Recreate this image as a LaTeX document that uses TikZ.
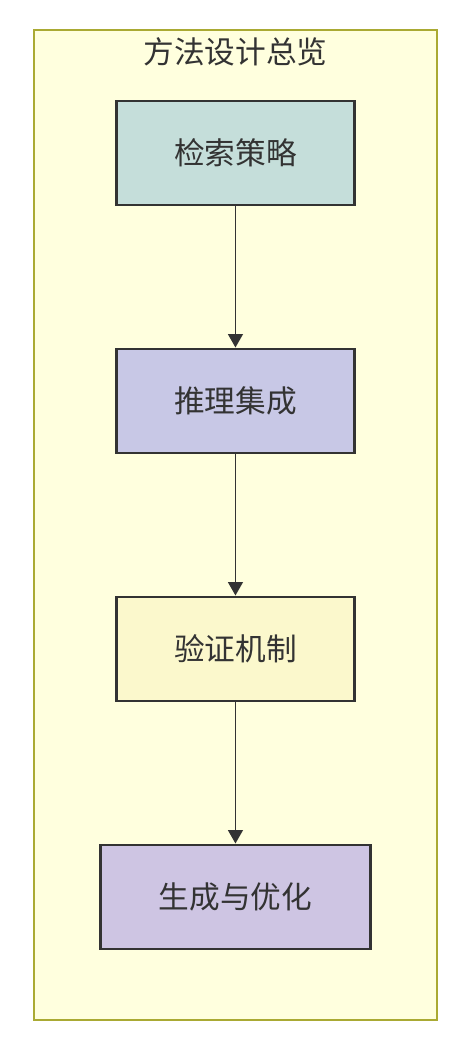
\documentclass[tikz,border=0pt]{standalone}
\usepackage{fontspec}
\setmainfont{Noto Sans CJK SC}
\definecolor{framefill}{HTML}{FFFFDE}
\definecolor{frameline}{HTML}{AAAA33}
\definecolor{inkgray}{HTML}{333333}
\definecolor{searchfill}{HTML}{C5DEDA}
\definecolor{reasonfill}{HTML}{C8C8E6}
\definecolor{checkfill}{HTML}{FBF8CC}
\definecolor{genfill}{HTML}{CEC5E3}
\usetikzlibrary{
  arrows.meta,
  positioning,
}
\tikzset{
  >={Triangle[width=11pt,length=10pt]},
  stagebox/.style={draw=inkgray,line width=2.2pt,rectangle,minimum width=179pt,minimum height=78pt,text=inkgray,font=\fontsize{23}{27}\selectfont},
  flow/.style={->,draw=inkgray,line width=1.3pt},
}

\begin{document}
\begin{tikzpicture}[node distance=105.8pt and 0mm]

        \useasboundingbox (0,0) rectangle (345pt,-780pt);
        \draw[fill=framefill,draw=frameline,line width=1.1pt] (25.5pt,-22.5pt) rectangle (327.75pt,-765pt);
        \node[text=inkgray,font=\fontsize{23}{27}\selectfont]    (title)    at (176.6pt,-39pt)   {方法设计总览};

        \node[stagebox,fill=searchfill]    (search)    at (176.6pt,-114.75pt)   {检索策略};
        \node[stagebox,fill=reasonfill]    (reason)    [below=of search]   {推理集成};
        \node[stagebox,fill=checkfill]    (check)    [below=of reason]   {验证机制};
        \node[stagebox,fill=genfill,minimum width=202pt]    (gen)    [below=of check]   {生成与优化};

        \draw[flow] (search) -- (reason);
        \draw[flow] (reason) -- (check);
        \draw[flow] (check) -- (gen);

    \end{tikzpicture}
\end{document}
